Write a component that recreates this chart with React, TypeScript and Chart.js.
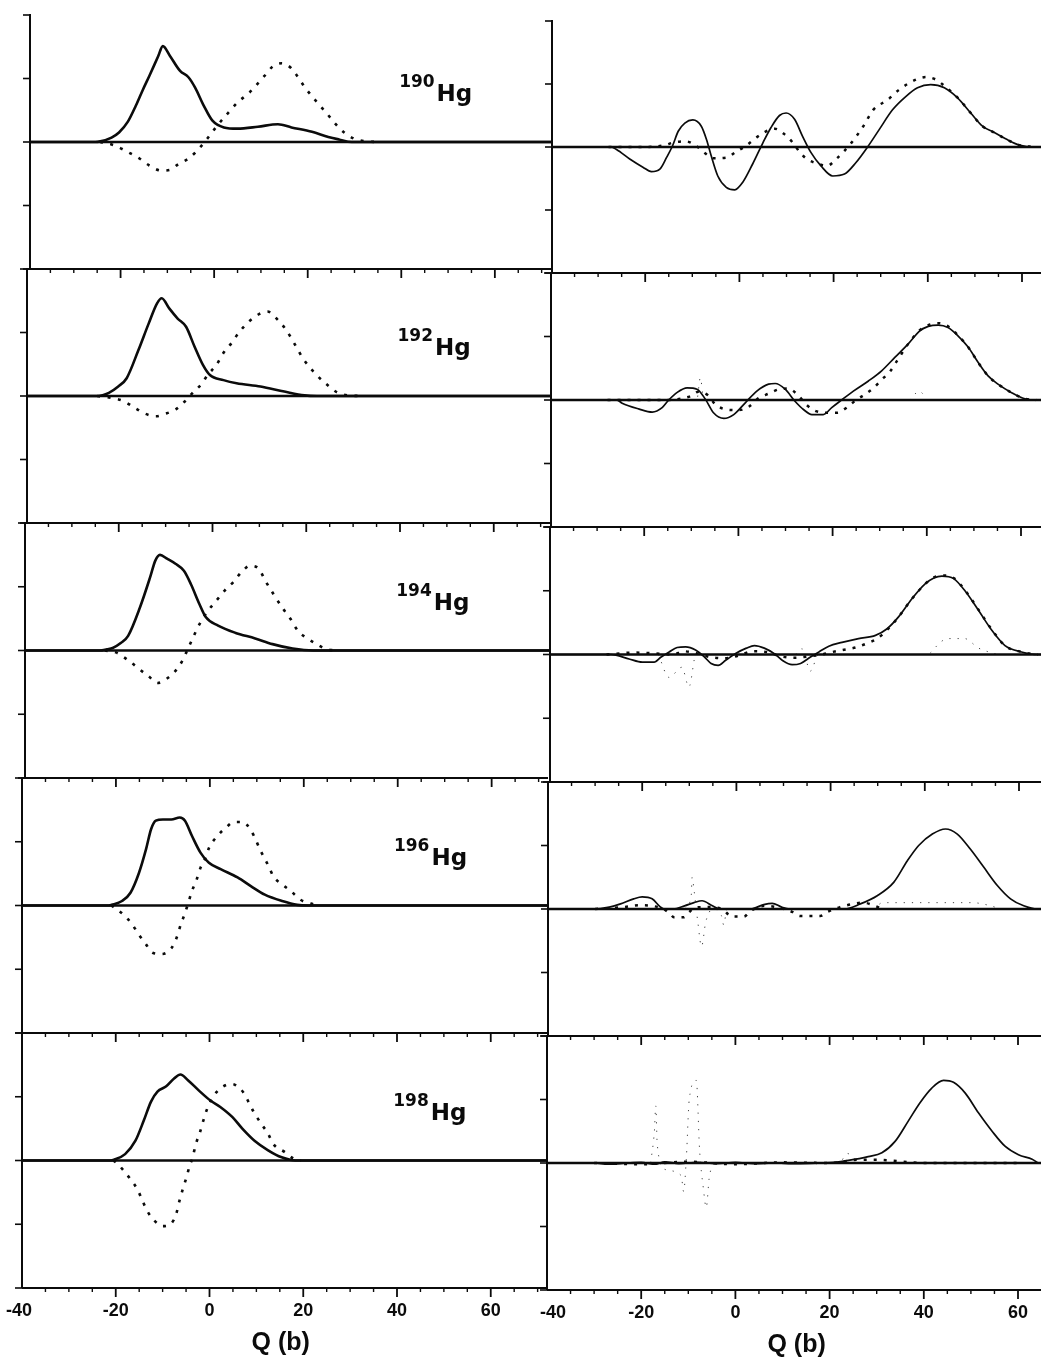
import React, { useEffect, useRef } from "react";
import { Chart, registerables } from "chart.js";

Chart.register(...registerables);

type Pt = [number, number];

// ---------- tick labels / categories ----------
const xTickLabels = [-40, -20, 0, 20, 40, 60];
const yTicks = [-2, -1, 0, 1, 2];
const isotopes = ["190", "192", "194", "196", "198"];
const axisTitle = "Q (b)";

// ---------- left column (solid = thick line, dotted = dotted line) ----------
const hg190LeftSolid: Pt[] = [[-40,0],[-26,0],[-24.9,0.01],[-22.5,0.07],[-20.9,0.15],[-19,0.32],[-17.3,0.57],[-15.8,0.82],[-14.4,1.04],[-12.5,1.35],[-11.5,1.51],[-10.0,1.36],[-7.8,1.12],[-6.0,1.02],[-4.6,0.86],[-2.7,0.57],[-0.9,0.34],[1.6,0.23],[4.5,0.21],[8.9,0.24],[13.2,0.28],[16.1,0.23],[20.5,0.16],[24,0.08],[26.3,0.04],[29,0],[72,0]];
const hg190LeftDotted: Pt[] = [[-25,0],[-22,-0.05],[-18.7,-0.17],[-16.5,-0.26],[-14.4,-0.37],[-11.8,-0.45],[-10.0,-0.44],[-8.2,-0.35],[-6.0,-0.26],[-4.2,-0.14],[-2.0,0.05],[0.2,0.26],[2.3,0.44],[4.5,0.62],[7.1,0.78],[8.5,0.89],[10.3,1.04],[12.1,1.19],[14.0,1.24],[16.1,1.16],[17.6,1.01],[19.0,0.86],[20.5,0.72],[21.9,0.6],[23.8,0.44],[25.6,0.28],[27.4,0.15],[29.6,0.05],[32,0.01],[35,0]];

const hg192LeftSolid: Pt[] = [[-40,0],[-25,0],[-22.5,0.05],[-20.5,0.15],[-18.7,0.28],[-16.2,0.72],[-14.0,1.14],[-12.2,1.46],[-11.2,1.54],[-9.6,1.38],[-7.8,1.22],[-6.0,1.09],[-4.2,0.78],[-2.4,0.49],[-0.9,0.33],[2.0,0.25],[4.8,0.2],[9.9,0.15],[15.0,0.07],[19.3,0.01],[22,0],[72,0]];
const hg192LeftDotted: Pt[] = [[-25,0],[-22,-0.03],[-19.4,-0.08],[-16.9,-0.19],[-14.7,-0.28],[-12.5,-0.32],[-10.4,-0.28],[-8.2,-0.21],[-6.2,-0.08],[-4.6,0.05],[-2.8,0.18],[-1.3,0.34],[0.5,0.49],[2.0,0.68],[3.8,0.84],[5.2,0.99],[7.4,1.17],[9.6,1.29],[11.4,1.33],[13.6,1.2],[15.4,1.04],[17.5,0.78],[19.0,0.59],[21.9,0.33],[24.1,0.18],[26.2,0.06],[28.4,0.01],[32,0]];

const hg194LeftSolid: Pt[] = [[-40,0],[-24,0],[-22.5,0.02],[-21.3,0.04],[-19.5,0.12],[-18.0,0.23],[-15.5,0.67],[-13.3,1.15],[-12.2,1.41],[-11.2,1.5],[-9.7,1.44],[-7.9,1.36],[-6.1,1.25],[-4.6,1.04],[-2.8,0.73],[-1.4,0.52],[1.2,0.39],[4.8,0.28],[9.1,0.19],[12.8,0.1],[17.1,0.03],[21.5,0],[72,0]];
const hg194LeftDotted: Pt[] = [[-23,0],[-20.6,-0.03],[-17.7,-0.17],[-15.5,-0.3],[-13.7,-0.4],[-11.7,-0.51],[-9.7,-0.44],[-7.9,-0.32],[-6.5,-0.17],[-5.4,0],[-4.3,0.18],[-2.8,0.41],[-1.0,0.62],[0.8,0.78],[2.6,0.94],[4.4,1.07],[6.2,1.23],[8.0,1.33],[9.9,1.28],[11.3,1.09],[12.8,0.91],[14.9,0.67],[16.7,0.49],[18.2,0.31],[20.0,0.2],[22.2,0.1],[24.3,0.02],[27,0]];

const hg196LeftSolid: Pt[] = [[-40,0],[-21.5,0],[-20.9,0.01],[-18.7,0.07],[-16.9,0.2],[-15.1,0.51],[-13.6,0.88],[-12.5,1.2],[-11.5,1.33],[-10.0,1.35],[-8.2,1.35],[-6.4,1.38],[-5.3,1.33],[-3.8,1.09],[-2.0,0.83],[-0.2,0.67],[2.3,0.57],[5.9,0.44],[8.8,0.3],[11.7,0.17],[15.4,0.07],[18.6,0.01],[21,0],[72,0]];
const hg196LeftDotted: Pt[] = [[-21,0],[-19.8,-0.06],[-18.0,-0.17],[-16.5,-0.3],[-15.1,-0.46],[-13.6,-0.61],[-12.2,-0.74],[-10.2,-0.76],[-8.2,-0.67],[-7.1,-0.51],[-6.2,-0.3],[-5.3,-0.12],[-4.6,0.04],[-3.8,0.23],[-2.8,0.41],[-2.0,0.59],[-0.9,0.75],[-0.2,0.9],[1.6,1.09],[3.4,1.22],[5.2,1.31],[7.0,1.31],[8.8,1.17],[11.0,0.83],[12.5,0.62],[13.5,0.46],[15.4,0.33],[17.2,0.23],[19.3,0.09],[21.5,0.03],[23,0]];

const hg198LeftSolid: Pt[] = [[-40,0],[-21,0],[-20.5,0.01],[-18.0,0.1],[-15.8,0.31],[-14.0,0.63],[-12.5,0.92],[-11.1,1.08],[-9.3,1.16],[-7.5,1.29],[-6.2,1.35],[-4.6,1.26],[-2.3,1.1],[0.2,0.94],[2.3,0.84],[4.9,0.68],[7.0,0.5],[9.6,0.31],[12.5,0.16],[15.4,0.05],[18.3,0],[72,0]];
const hg198LeftDotted: Pt[] = [[-20.5,0],[-19.5,-0.06],[-18.3,-0.16],[-16.9,-0.29],[-15.4,-0.45],[-14.3,-0.63],[-13.3,-0.79],[-11.8,-0.94],[-10.0,-1.03],[-8.2,-0.99],[-7.1,-0.84],[-6.4,-0.63],[-5.7,-0.45],[-4.9,-0.26],[-4.3,-0.1],[-3.6,0.05],[-2.9,0.26],[-2.0,0.45],[-1.3,0.63],[-0.6,0.79],[0.3,0.94],[1.6,1.08],[3.4,1.18],[4.6,1.2],[5.6,1.18],[7.4,1.05],[8.5,0.89],[9.6,0.74],[11.0,0.58],[12.5,0.42],[13.6,0.26],[16.1,0.13],[17.9,0.03],[19.5,0]];

// ---------- right column (solid = thin line, dotted, faint sparse dots) ----------
const hg190RightSolid: Pt[] = [[-40,0],[-27.5,0],[-26.3,-0.04],[-23.5,-0.19],[-20.7,-0.32],[-18.9,-0.39],[-17.1,-0.35],[-15.7,-0.17],[-14.4,0.02],[-13.2,0.25],[-11.8,0.38],[-10.1,0.43],[-8.3,0.33],[-7.2,0.12],[-6.2,-0.14],[-4.8,-0.46],[-3.0,-0.64],[-1.2,-0.68],[0.5,-0.56],[2.6,-0.27],[4.8,0.07],[6.5,0.31],[8.3,0.5],[9.7,0.54],[11.5,0.44],[13.2,0.17],[15.0,-0.09],[17.1,-0.3],[19.6,-0.46],[22.1,-0.43],[24.5,-0.25],[27.0,0],[29.5,0.28],[32.3,0.59],[35.1,0.8],[37.6,0.94],[40.4,0.99],[43.3,0.94],[46.1,0.78],[48.9,0.54],[51.4,0.33],[53.9,0.23],[56.3,0.13],[59.2,0.03],[62.5,0],[66,0]];
const hg190RightDotted: Pt[] = [[-28,0],[-20,0],[-16,0.03],[-14.3,0.07],[-11.6,0.09],[-9.6,0.03],[-7.5,-0.1],[-5.8,-0.18],[-3.0,-0.17],[-1.0,-0.08],[1.2,0.02],[3.4,0.15],[5.5,0.25],[7.3,0.29],[9.4,0.2],[11.1,0.07],[12.7,-0.09],[14.1,-0.19],[16.6,-0.27],[18.3,-0.3],[20.5,-0.18],[23.6,0.07],[26.1,0.33],[28.2,0.59],[31.3,0.75],[33.7,0.91],[37.3,1.07],[39.4,1.11],[41.5,1.07],[43.6,0.95],[46.4,0.76],[48.9,0.54],[51.4,0.33],[53.9,0.23],[56.3,0.13],[59.2,0.03],[62.5,0]];
const hg190RightFaint: Pt[] = [];

const hg192RightSolid: Pt[] = [[-40,0],[-26,0],[-24.9,-0.05],[-21.4,-0.14],[-18.5,-0.19],[-16.4,-0.12],[-15.0,0],[-13.2,0.12],[-11.1,0.19],[-9.0,0.17],[-7.2,0.01],[-5.5,-0.2],[-3.3,-0.29],[-1.2,-0.23],[1.3,-0.04],[3.7,0.14],[6.2,0.25],[7.6,0.26],[9.7,0.17],[11.8,-0.02],[13.6,-0.15],[15.4,-0.23],[17.8,-0.23],[19.6,-0.12],[21.7,0],[24.2,0.14],[27.4,0.3],[30.2,0.46],[33.0,0.67],[35.8,0.88],[38.3,1.09],[40.1,1.16],[42.2,1.18],[44.3,1.14],[46.4,1.01],[48.6,0.83],[50.7,0.59],[52.8,0.38],[54.9,0.25],[57.7,0.12],[60.6,0.02],[63.4,0],[66,0]];
const hg192RightDotted: Pt[] = [[-28,0],[-15,0],[-12.5,0.02],[-10.4,0.06],[-8.7,0.13],[-6.6,0.07],[-5.1,-0.07],[-2.7,-0.15],[-0.2,-0.16],[1.9,-0.11],[4.1,0.03],[6.2,0.1],[8.5,0.17],[10.4,0.18],[12.5,0.07],[14.3,-0.08],[16.1,-0.17],[18.3,-0.2],[20.8,-0.2],[22.8,-0.12],[24.8,0],[26.7,0.09],[28.5,0.19],[30.2,0.32],[32,0.45],[33.5,0.62],[35.8,0.88],[38.3,1.1],[40.5,1.19],[42.2,1.21],[44.3,1.16],[46.4,1.02],[48.6,0.83],[50.7,0.59],[52.8,0.38],[54.9,0.25],[57.7,0.12],[60.6,0.02],[63,0]];
const hg192RightFaint: Pt[] = [[-12,0],[-9,0.02],[-8.3,0.35],[-7.6,0.03],[-6,0],[36,0],[38.1,0.14],[40,0]];

const hg194RightSolid: Pt[] = [[-40,0],[-27,0],[-26,-0.01],[-23.2,-0.07],[-20.4,-0.12],[-17.9,-0.12],[-16.4,-0.04],[-14.7,0.04],[-13.0,0.11],[-11.2,0.12],[-9.1,0.07],[-7.2,-0.04],[-5.8,-0.14],[-4.3,-0.17],[-2.7,-0.09],[-0.5,0.02],[1.7,0.1],[3.4,0.14],[5.5,0.1],[7.7,0.01],[9.3,-0.09],[11.4,-0.16],[13.2,-0.14],[15.3,-0.04],[17.1,0.04],[19.2,0.13],[22.0,0.19],[25.5,0.25],[29.1,0.3],[31.5,0.4],[34.0,0.59],[36.8,0.87],[39.7,1.11],[41.5,1.2],[43.2,1.23],[45.7,1.19],[48.1,1.0],[51.0,0.69],[53.8,0.38],[56.6,0.14],[60.1,0.04],[63.6,0],[66,0]];
const hg194RightDotted: Pt[] = [[-28,0],[-22,0.03],[-18,0.02],[-14,0],[-11.5,0.05],[-9,0.02],[-6,-0.04],[-3,-0.06],[0,-0.02],[3,0.05],[6,0.04],[9,-0.03],[12,-0.05],[15,-0.03],[17.7,0],[20,0.04],[22,0.07],[24.9,0.11],[27.5,0.18],[29.5,0.25],[31.5,0.38],[34.0,0.59],[36.8,0.87],[39.7,1.11],[41.5,1.21],[43.2,1.24],[45.7,1.2],[48.1,1.01],[51.0,0.7],[53.8,0.39],[56.6,0.14],[60.1,0.04],[63.6,0]];
const hg194RightFaint: Pt[] = [[-17,0],[-14.7,-0.36],[-12,-0.2],[-10.5,-0.51],[-9,0],[12,0],[13.5,0.09],[15.3,-0.26],[17,0],[40,0],[43,0.2],[44.5,0.25],[48,0.25],[51,0.1],[55,0]];

const hg196RightSolid: Pt[] = [[-40,0],[-30.3,0],[-27,0.03],[-24.6,0.08],[-21.8,0.16],[-20.0,0.19],[-17.9,0.16],[-16.1,0.03],[-15.3,0],[-13.4,0],[-11,0.05],[-9.0,0.1],[-7.3,0.13],[-5.1,0.05],[-3.6,0],[3,0],[5.8,0.07],[7.6,0.09],[9.6,0.03],[11.3,0],[23,0],[26.3,0.08],[29.9,0.21],[33.4,0.42],[36.3,0.76],[38.7,1.0],[41.6,1.18],[44.4,1.26],[46.9,1.18],[49.7,0.94],[52.5,0.66],[55.4,0.37],[58.2,0.16],[61.0,0.05],[63.9,0],[66,0]];
const hg196RightDotted: Pt[] = [[-30,0],[-24,0.03],[-20.5,0.06],[-18,0.05],[-15.5,0],[-14,-0.08],[-13.3,-0.13],[-11.2,-0.13],[-10,-0.05],[-9,0.02],[-6,0.03],[-3,0],[-1,-0.12],[1.6,-0.12],[3,-0.03],[6,0.05],[9,0.02],[12,-0.05],[13.5,-0.11],[17.8,-0.11],[19.5,-0.04],[22,0.03],[24.8,0.08],[27,0.1],[29,0.06],[31,0]];
const hg196RightFaint: Pt[] = [[-11,0],[-9.6,0.2],[-9.4,0.5],[-9.0,0.3],[-8.2,-0.2],[-7.4,-0.59],[-6.5,-0.2],[-5,0],[-3.2,-0.1],[-2.7,-0.25],[-2,0],[29,0],[31,0.1],[40,0.1],[50,0.1],[54,0.05],[56,0]];

const hg198RightSolid: Pt[] = [[-40,0],[-30,0],[-27,-0.02],[-23,0],[-20,0.01],[-17,-0.02],[-15,0.02],[-12,-0.01],[-8,0.01],[-4,-0.01],[0,0.01],[4,-0.01],[8,0],[13,-0.01],[18,0],[21,0.01],[24.0,0.04],[28.2,0.1],[31.1,0.16],[33.9,0.34],[36.7,0.66],[39.2,0.95],[41.7,1.18],[44.2,1.3],[46.3,1.27],[48.8,1.1],[51.6,0.79],[54.5,0.5],[57.3,0.26],[60.1,0.13],[63.0,0.06],[64.5,0],[66,0]];
const hg198RightDotted: Pt[] = [[-30,0],[-20,-0.02],[-10,0.02],[0,-0.02],[10,0.01],[20,0],[26,0.05],[30,0.05],[40,0],[60,0]];
const hg198RightFaint: Pt[] = [[-18,0],[-17.2,0.5],[-16.9,0.9],[-16.6,0.3],[-15,-0.1],[-11.5,-0.2],[-11,-0.45],[-10.4,0.1],[-9.8,1.0],[-8.3,1.3],[-7.6,0.2],[-6.8,-0.4],[-6.2,-0.7],[-5.5,-0.2],[-4,0],[22,0],[23.8,0.15],[25.5,0.05],[27,0]];

const leftSolid = [hg190LeftSolid, hg192LeftSolid, hg194LeftSolid, hg196LeftSolid, hg198LeftSolid];
const leftDotted = [hg190LeftDotted, hg192LeftDotted, hg194LeftDotted, hg196LeftDotted, hg198LeftDotted];
const rightSolid = [hg190RightSolid, hg192RightSolid, hg194RightSolid, hg196RightSolid, hg198RightSolid];
const rightDotted = [hg190RightDotted, hg192RightDotted, hg194RightDotted, hg196RightDotted, hg198RightDotted];
const rightFaint = [hg190RightFaint, hg192RightFaint, hg194RightFaint, hg196RightFaint, hg198RightFaint];

// ---------- layout (positions only) ----------
const PAGE_W = 1041;
const PAGE_H = 1361;
const LEFT_AXIS_X = [30, 27, 25, 22, 22];
const DIVIDER_X = [552, 551, 550, 548, 547];
const LEFT_TOPS = [15, 269, 523, 778, 1033, 1288];
const RIGHT_TOPS = [21, 273, 527, 782, 1036, 1290];
const LEFT_XMAX = 72;
const RIGHT_PX_PER_UNIT = 4.71;
const INK = "#0b0b0b";
const FONT = '"Liberation Sans", Arial, Helvetica, sans-serif';
const LABEL_FONT = '"DejaVu Sans", "Liberation Sans", sans-serif';

type PanelProps = {
  areaLeft: number;
  areaRight: number;
  areaTop: number;
  areaBottom: number;
  xMin: number;
  xMax: number;
  datasets: any[];
  topBorder: boolean;
  bottomAxis: boolean;
  isotope?: string;
  titleX: number;
};

function line(ctx: CanvasRenderingContext2D, x1: number, y1: number, x2: number, y2: number) {
  ctx.beginPath();
  ctx.moveTo(x1, y1);
  ctx.lineTo(x2, y2);
  ctx.stroke();
}

function Panel(p: PanelProps) {
  const ref = useRef<HTMLCanvasElement>(null);
  const atEdge = p.areaRight >= PAGE_W;
  const padL = 16;
  const padR = atEdge ? 0 : 2;
  const padT = 12;
  const padB = p.bottomAxis ? 72 : 12;
  const cw = p.areaRight - p.areaLeft + padL + padR;
  const ch = p.areaBottom - p.areaTop + padT + padB;

  useEffect(() => {
    if (!ref.current) return;
    const frame = {
      id: "frame",
      afterDraw(chart: any) {
        const ctx: CanvasRenderingContext2D = chart.ctx;
        const a = chart.chartArea;
        const xs = chart.scales.x;
        const ys = chart.scales.y;
        ctx.save();
        ctx.strokeStyle = INK;
        ctx.fillStyle = INK;
        ctx.lineCap = "butt";
        // zero line
        const y0 = ys.getPixelForValue(0);
        ctx.lineWidth = 2.3;
        line(ctx, a.left, y0, a.right, y0);
        // left axis
        const xa = xs.getPixelForValue(p.xMin);
        ctx.lineWidth = 2;
        line(ctx, xa, a.top - 1, xa, a.bottom);
        // y ticks
        ctx.lineWidth = 1.6;
        for (const v of yTicks) {
          const y = ys.getPixelForValue(v);
          line(ctx, xa - 7, y, xa, y);
        }
        const drawXTicks = (yy: number, dir: number) => {
          for (let v = -35; v <= p.xMax + 0.01; v += 5) {
            const major = v % 20 === 0;
            const x = xs.getPixelForValue(v);
            ctx.lineWidth = major ? 1.8 : 1.4;
            line(ctx, x, yy, x, yy + dir * (major ? 9 : 4));
          }
        };
        if (p.topBorder) {
          ctx.lineWidth = 2;
          line(ctx, a.left, a.top, a.right, a.top);
          drawXTicks(a.top, 1);
        }
        if (p.bottomAxis) {
          ctx.lineWidth = 2;
          line(ctx, a.left, a.bottom, a.right, a.bottom);
          drawXTicks(a.bottom, 1);
          ctx.font = `bold 18px ${FONT}`;
          ctx.textAlign = "center";
          ctx.textBaseline = "middle";
          for (const v of xTickLabels) {
            let dx = 0;
            if (v === -40) dx = atEdge ? 6 : -3;
            ctx.fillText(String(v), xs.getPixelForValue(v) + dx, a.bottom + 23);
          }
          ctx.font = `bold 25px ${FONT}`;
          ctx.fillText(axisTitle, xs.getPixelForValue(p.titleX), a.bottom + 55);
        }
        if (p.isotope) {
          ctx.textAlign = "left";
          ctx.textBaseline = "alphabetic";
          ctx.font = `bold 17px ${LABEL_FONT}`;
          ctx.fillText(p.isotope, xs.getPixelForValue(39.2), ys.getPixelForValue(0.86));
          ctx.font = `bold 23px ${LABEL_FONT}`;
          ctx.fillText("Hg", xs.getPixelForValue(47.2), ys.getPixelForValue(0.64));
        }
        ctx.restore();
      },
    };
    const chart = new Chart(ref.current, {
      type: "line",
      data: { datasets: p.datasets },
      options: {
        animation: false,
        responsive: false,
        maintainAspectRatio: false,
        events: [],
        layout: { padding: { left: padL, right: padR, top: padT, bottom: padB } },
        plugins: { legend: { display: false }, tooltip: { enabled: false } },
        scales: {
          x: { type: "linear", min: p.xMin, max: p.xMax, display: false },
          y: { type: "linear", min: -2, max: 2, display: false },
        },
        elements: { point: { radius: 0 } },
      } as any,
      plugins: [frame as any],
    });
    return () => chart.destroy();
  }, []);

  return (
    <canvas
      ref={ref}
      width={cw}
      height={ch}
      style={{
        position: "absolute",
        left: p.areaLeft - padL,
        top: p.areaTop - padT,
        width: cw,
        height: ch,
      }}
    />
  );
}

const solid = (data: Pt[], width: number) => ({
  data,
  borderColor: INK,
  borderWidth: width,
  pointRadius: 0,
  fill: false,
  cubicInterpolationMode: "monotone",
});

const dotted = (data: Pt[], width: number, dash: number[], color = INK) => ({
  data,
  borderColor: color,
  borderWidth: width,
  borderDash: dash,
  borderCapStyle: "butt",
  pointRadius: 0,
  fill: false,
  cubicInterpolationMode: "monotone",
});

export default function App() {
  const panels: React.ReactNode[] = [];
  for (let r = 0; r < 5; r++) {
    const last = r === 4;
    panels.push(
      <Panel
        key={"L" + r}
        areaLeft={LEFT_AXIS_X[r]}
        areaRight={DIVIDER_X[r]}
        areaTop={LEFT_TOPS[r]}
        areaBottom={LEFT_TOPS[r + 1]}
        xMin={-40}
        xMax={LEFT_XMAX}
        datasets={[solid(leftSolid[r], 2.6), dotted(leftDotted[r], 2.6, [3, 7.5])]}
        topBorder={r > 0}
        bottomAxis={last}
        isotope={isotopes[r]}
        titleX={15.2}
      />
    );
    const rxMax = -40 + (PAGE_W - DIVIDER_X[r]) / RIGHT_PX_PER_UNIT;
    panels.push(
      <Panel
        key={"R" + r}
        areaLeft={DIVIDER_X[r]}
        areaRight={PAGE_W}
        areaTop={RIGHT_TOPS[r]}
        areaBottom={RIGHT_TOPS[r + 1]}
        xMin={-40}
        xMax={rxMax}
        datasets={[
          solid(rightSolid[r], 1.7),
          dotted(rightDotted[r], 2.5, [3, 7]),
          dotted(rightFaint[r], 1, [1.2, 7], "#444"),
        ]}
        topBorder={r > 0}
        bottomAxis={last}
        titleX={13}
      />
    );
  }
  return (
    <div
      style={{
        position: "absolute",
        left: 0,
        top: 0,
        width: PAGE_W,
        height: PAGE_H,
        background: "#fff",
        overflow: "hidden",
      }}
    >
      {panels}
    </div>
  );
}
